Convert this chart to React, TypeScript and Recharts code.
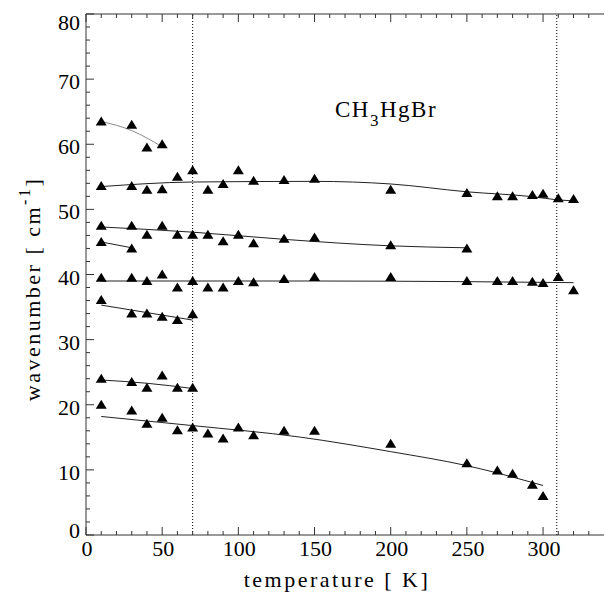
import React from 'react';
import { ComposedChart, Scatter, Line, XAxis, YAxis, ReferenceLine } from 'recharts';

// measured modes: temperature [K] and wavenumber [cm-1]
const modeA_T = [10, 30, 40, 50];
const modeA_W = [63.5, 63.0, 59.5, 60.0];

const modeB_T = [10, 30, 40, 50, 60, 70, 80, 90, 100, 110, 130, 150, 200, 250, 270, 280, 293, 300, 310, 320];
const modeB_W = [53.6, 53.6, 53.0, 53.1, 55.0, 56.0, 53.0, 53.9, 56.0, 54.4, 54.5, 54.7, 53.0, 52.5, 52.0, 52.0, 52.2, 52.4, 51.7, 51.6];

const modeC_T = [10, 30, 40, 50, 60, 70, 80, 90, 100, 110, 130, 150, 200, 250];
const modeC_W = [47.5, 47.5, 46.1, 47.5, 46.1, 46.1, 46.1, 45.1, 46.1, 44.8, 45.5, 45.7, 44.5, 44.0];

const modeD_T = [10, 30];
const modeD_W = [45.0, 44.0];

const modeE_T = [10, 30, 40, 50, 60, 70, 80, 90, 100, 110, 130, 150, 200, 250, 270, 280, 293, 300, 310, 320];
const modeE_W = [39.5, 39.5, 39.0, 40.0, 38.0, 39.0, 38.0, 38.0, 39.0, 38.8, 39.3, 39.6, 39.6, 39.0, 39.0, 39.0, 38.9, 38.7, 39.6, 37.6];

const modeF_T = [10, 30, 40, 50, 60, 70];
const modeF_W = [36.1, 34.0, 34.0, 33.5, 33.0, 33.9];

const modeG_T = [10, 30, 40, 50, 60, 70];
const modeG_W = [24.0, 23.5, 22.6, 24.5, 22.6, 22.6];

const modeH_T = [10, 30, 40, 50, 60, 70, 80, 90, 100, 110, 130, 150, 200, 250, 270, 280, 293, 300];
const modeH_W = [20.0, 19.1, 17.1, 18.0, 16.1, 16.5, 15.6, 14.8, 16.5, 15.3, 16.0, 16.0, 14.0, 11.0, 9.9, 9.4, 7.7, 6.0];

// fitted curves
const fitA_T = [10, 30, 50];
const fitA_W = [63.5, 62.1, 59.6];
const fitB_T = [10, 70, 150, 200, 250, 293, 310, 320];
const fitB_W = [53.5, 54.2, 54.3, 53.9, 52.7, 51.95, 51.45, 51.3];
const fitC_T = [10, 70, 130, 200, 250];
const fitC_W = [47.3, 46.5, 45.4, 44.4, 44.1];
const fitD_T = [10, 30];
const fitD_W = [45.0, 44.1];
const fitE_T = [10, 150, 250, 320];
const fitE_W = [39.0, 39.0, 38.9, 38.75];
const fitF_T = [10, 70];
const fitF_W = [35.3, 33.0];
const fitG_T = [10, 40, 70];
const fitG_W = [23.8, 23.3, 22.5];
const fitH_T = [10, 70, 140, 200, 250, 300];
const fitH_W = [18.2, 16.8, 15.05, 12.8, 10.65, 7.6];

const phaseLines = [70, 309];

const xTicks = Array.from({ length: 34 }, (_, i) => i * 10);
const yTicks = Array.from({ length: 41 }, (_, i) => i * 2);

const FONT = 'Liberation Serif';

const toPts = (t: number[], w: number[]) => t.map((x, i) => ({ x, y: w[i] }));

const modes = [
  [modeA_T, modeA_W],
  [modeB_T, modeB_W],
  [modeC_T, modeC_W],
  [modeD_T, modeD_W],
  [modeE_T, modeE_W],
  [modeF_T, modeF_W],
  [modeG_T, modeG_W],
  [modeH_T, modeH_W],
];

const fits = [
  [fitA_T, fitA_W, '#8a8a8a'],
  [fitB_T, fitB_W, '#222'],
  [fitC_T, fitC_W, '#222'],
  [fitD_T, fitD_W, '#222'],
  [fitE_T, fitE_W, '#222'],
  [fitF_T, fitF_W, '#222'],
  [fitG_T, fitG_W, '#222'],
  [fitH_T, fitH_W, '#222'],
] as const;

const Triangle = (props: any) => {
  const { cx, cy } = props;
  if (cx == null || cy == null) return null;
  return <polygon points={`${cx},${cy - 5} ${cx - 5.5},${cy + 4} ${cx + 5.5},${cy + 4}`} fill="#000" />;
};

const BottomTick = ({ x, y, payload }: any) => {
  const major = payload.value % 50 === 0;
  return (
    <g>
      <line x1={x} x2={x} y1={y} y2={y - (major ? 8 : 4)} stroke="#333" />
      {major && (
        <text x={x + 1} y={y + 21} textAnchor="middle" style={{ fontFamily: FONT, fontSize: 22 }} fill="#000">
          {payload.value}
        </text>
      )}
    </g>
  );
};

const TopTick = ({ x, y, payload }: any) => {
  const major = payload.value % 50 === 0;
  return <line x1={x} x2={x} y1={y} y2={y + (major ? 8 : 4)} stroke="#333" />;
};

const LeftTick = ({ x, y, payload }: any) => {
  const major = payload.value % 10 === 0;
  let ty = y + 10;
  if (payload.value === 80) ty = y + 16;
  if (payload.value === 0) ty = y + 3;
  return (
    <g>
      <line x1={x} x2={x + (major ? 8 : 4)} y1={y} y2={y} stroke="#333" />
      {major && (
        <text x={x - 6} y={ty} textAnchor="end" style={{ fontFamily: FONT, fontSize: 22 }} fill="#000">
          {payload.value}
        </text>
      )}
    </g>
  );
};

const RightTick = ({ x, y, payload }: any) => {
  const major = payload.value % 10 === 0;
  return <line x1={x} x2={x - (major ? 8 : 4)} y1={y} y2={y} stroke="#333" />;
};

export default function App() {
  return (
    <div style={{ position: 'absolute', left: 0, top: 0, width: 605, height: 594, background: '#fff' }}>
      <ComposedChart width={605} height={594} margin={{ top: 0, right: 0, bottom: 0, left: 0 }}>
        <XAxis
          xAxisId={0}
          type="number"
          dataKey="x"
          domain={[0, 340]}
          ticks={xTicks}
          interval={0}
          tickSize={0}
          tickMargin={0}
          tickLine={false}
          tick={BottomTick}
          height={59}
          axisLine={{ stroke: '#333' }}
          allowDataOverflow
        />
        <XAxis
          xAxisId="top"
          orientation="top"
          type="number"
          dataKey="x"
          domain={[0, 340]}
          ticks={xTicks}
          interval={0}
          tickSize={0}
          tickMargin={0}
          tickLine={false}
          tick={TopTick}
          height={14}
          axisLine={{ stroke: '#333' }}
          allowDataOverflow
        />
        <YAxis
          yAxisId={0}
          type="number"
          dataKey="y"
          domain={[0, 80]}
          ticks={yTicks}
          interval={0}
          tickSize={0}
          tickMargin={0}
          tickLine={false}
          tick={LeftTick}
          width={86}
          axisLine={{ stroke: '#333' }}
        />
        <YAxis
          yAxisId="right"
          orientation="right"
          type="number"
          dataKey="y"
          domain={[0, 80]}
          ticks={yTicks}
          interval={0}
          tickSize={0}
          tickMargin={0}
          tickLine={false}
          tick={RightTick}
          width={1}
          axisLine={false}
        />
        {phaseLines.map((t) => (
          <ReferenceLine key={t} x={t} stroke="#000" strokeDasharray="1 2" />
        ))}
        {fits.map(([t, w, c], i) => (
          <Line
            key={'fit' + i}
            data={toPts(t as number[], w as number[])}
            dataKey="y"
            type="monotone"
            stroke={c as string}
            strokeWidth={1}
            dot={false}
            activeDot={false}
            isAnimationActive={false}
          />
        ))}
        {modes.map(([t, w], i) => (
          <Scatter
            key={'mode' + i}
            data={toPts(t, w)}
            dataKey="y"
            shape={Triangle}
            isAnimationActive={false}
          />
        ))}
      </ComposedChart>
      <svg width={605} height={594} style={{ position: 'absolute', left: 0, top: 0, pointerEvents: 'none' }}>
        <text x={337} y={587} textAnchor="middle" letterSpacing={2.5} fill="#000" style={{ fontFamily: FONT, fontSize: 22 }}>
          temperature [ K]
        </text>
        <text
          transform="translate(40,289) rotate(-90)"
          textAnchor="middle"
          letterSpacing={2.5}
          fill="#000"
          style={{ fontFamily: FONT, fontSize: 22 }}
        >
          wavenumber [ cm
          <tspan dy={-10} style={{ fontSize: 16 }}>-1</tspan>
          <tspan dy={10}>]</tspan>
        </text>
        <text x={335} y={117} letterSpacing={1.5} fill="#000" style={{ fontFamily: FONT, fontSize: 23 }}>
          CH
          <tspan dy={9} style={{ fontSize: 17 }}>3</tspan>
          <tspan dy={-9}>HgBr</tspan>
        </text>
      </svg>
    </div>
  );
}
